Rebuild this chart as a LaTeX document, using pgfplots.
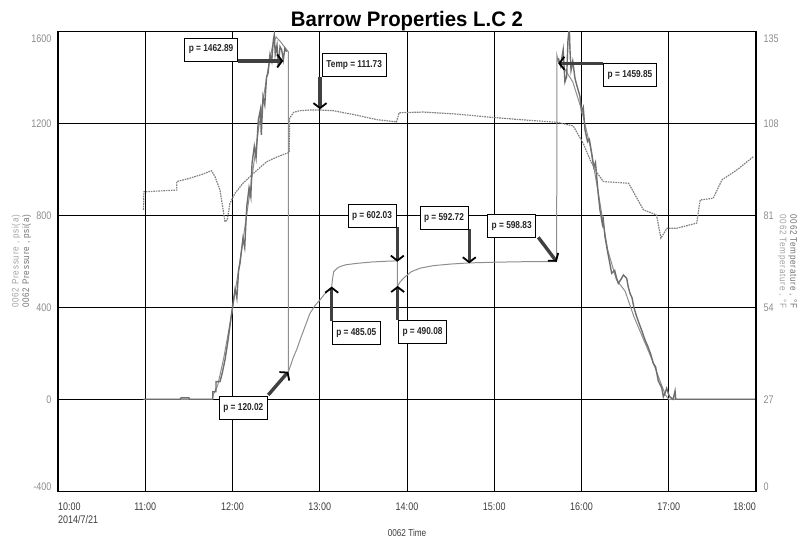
\documentclass[border=0pt]{standalone}
\usepackage{pgfplots}
\pgfplotsset{compat=1.18}
\usetikzlibrary{arrows.meta}
\usepackage{fontspec}
\setmainfont{Liberation Sans}
\newfontfamily\tickfont[FakeStretch=0.82]{Liberation Sans}
\newfontfamily\boxfont[FakeStretch=0.83]{Liberation Sans}
\newfontfamily\titlefont[FakeStretch=0.97]{Liberation Sans}
\newfontfamily\labfont[FakeStretch=0.85,LetterSpace=8]{Liberation Sans}
\definecolor{ylab}{HTML}{8C8C8C}
\definecolor{xlab}{HTML}{3C3C3C}
\definecolor{pA}{HTML}{6E6E6E}
\definecolor{pB}{HTML}{8E8E8E}
\definecolor{tmp}{HTML}{808080}
\definecolor{lablight}{HTML}{A0A0A0}
\definecolor{labdark}{HTML}{707070}
\tikzset{
  arr/.style={line width=3.4bp, draw=black!75, -{Straight Barb[length=5bp,width=13bp,line width=1.8bp,black]}},
  box/.style={draw=black, line width=0.6bp, fill=white, font=\fontsize{10bp}{12bp}\boxfont\bfseries, inner xsep=4bp, inner ysep=0bp, minimum height=23bp, text=black!85}
}
\begin{document}
\begin{tikzpicture}
\path[use as bounding box] (0bp,0bp) rectangle (809bp,541bp);
\begin{axis}[
  at={(58bp,49.7bp)}, anchor=south west,
  width=698bp, height=460bp, scale only axis,
  xmin=10, xmax=18, ymin=-400, ymax=1600,
  xtick={10,11,...,18},
  xticklabels={\rlap{\begin{tabular}[t]{@{}l@{}}10:00\\2014/7/21\end{tabular}},11:00,12:00,13:00,14:00,15:00,16:00,17:00,\llap{18:00}},
  ytick={-400,0,400,800,1200,1600},
  yticklabels={\raisebox{4.5bp}[\height][\depth]{-400},0,400,800,1200,\raisebox{-7bp}[\height][\depth]{1600}},
  xtick pos=bottom, ytick pos=left,
  major tick length=0pt,
  grid=major,
  major grid style={black, line width=1bp},
  axis line style={black, line width=1.5bp},
  xticklabel style={font=\fontsize{11bp}{13.3bp}\tickfont, text=xlab, anchor=base, inner sep=0pt, yshift=-18.7bp},
  yticklabel style={font=\fontsize{11bp}{13bp}\tickfont, text=ylab, anchor=east, inner sep=0pt, xshift=-6.3bp},
  xlabel={0062 Time},
  xlabel style={at={(axis description cs:0.5,0)}, anchor=base, yshift=-45.4bp, font=\fontsize{10bp}{12bp}\tickfont, text=xlab},
  ylabel={\begin{tabular}{@{}c@{}}\textcolor{lablight}{0062 Pressure , psi(a)}\\[-1.5bp]\textcolor{labdark}{0062 Pressure , psi(a)}\end{tabular}},
  ylabel style={at={(axis description cs:-0.0522,0.5)}, anchor=center, font=\fontsize{9.5bp}{12bp}\labfont},
  title={Barrow Properties L.C 2},
  title style={at={(axis description cs:0.5,1)}, anchor=base, yshift=-1.5bp, font=\fontsize{21bp}{24bp}\titlefont\bfseries},
  clip=true,
]
% Pressure series B (thin, lighter)
\addplot[pB, line width=1bp] table {
10.98 0
11.77 0
11.78 20
11.83 60
11.90 180
12.00 390
12.10 640
12.20 900
12.30 1180
12.40 1420
12.46 1540
12.50 1575
12.55 1555
12.60 1530
12.64 1511
12.641 120
12.70 185
12.74 220
12.774 258
12.83 315
12.888 374
12.95 410
13.003 432
13.05 455
13.10 475
13.137 487
13.145 520
13.16 555
13.20 570
13.232 577
13.30 585
13.424 591
13.60 597
13.75 600
13.889 602
13.890 490
13.92 510
13.97 530
14.05 555
14.15 570
14.30 581
14.50 588
14.714 593
15.00 596
15.30 598
15.716 599
15.717 1497
15.74 1460
15.80 1440
15.90 1380
16.00 1260
16.10 1100
16.20 880
16.30 650
16.40 520
16.50 470
16.60 360
16.70 270
16.80 180
16.90 80
16.96 20
17.00 0
18.00 0
};
% Pressure series A (jagged, darker) - rise
\addplot[pA, line width=1.4bp] table {
10.98 0
11.40 0
11.41 6
11.50 6
11.51 0
11.773 0
11.774 33
11.81 33
11.811 77
11.857 77
11.88 110
11.914 171
11.95 260
12.00 403
12.03 480
12.05 440
12.07 560
12.086 591
12.12 700
12.14 660
12.163 837
12.19 920
12.21 880
12.224 1026
12.25 1100
12.27 1050
12.296 1214
12.32 1260
12.33 1150
12.35 1316
12.37 1280
12.39 1400
12.407 1417
12.43 1500
12.45 1470
12.468 1562
12.479 1585
12.49 1500
12.51 1540
12.525 1446
12.545 1533
12.564 1519
12.582 1475
12.60 1526
12.62 1511
};
% Pressure series A - decline
\addplot[pA, line width=1.4bp] table {
15.734 1483
15.76 1450
15.79 1520
15.81 1380
15.83 1403
15.845 1560
15.86 1620
15.868 1519
15.88 1430
15.90 1470
15.925 1396
15.95 1360
15.983 1316
16.00 1250
16.02 1270
16.040 1171
16.07 1120
16.09 1130
16.117 1070
16.14 1010
16.16 1030
16.174 968
16.19 900
16.212 823
16.24 760
16.25 780
16.269 707
16.30 640
16.32 600
16.346 548
16.38 560
16.40 530
16.422 504
16.45 520
16.48 540
16.518 526
16.535 490
16.556 461
16.58 440
16.60 400
16.633 359
16.66 330
16.69 300
16.728 258
16.76 230
16.79 200
16.823 157
16.85 140
16.88 80
16.92 50
16.938 11
16.96 30
16.976 48
17.00 20
17.014 10
17.05 0
17.072 36
17.08 0
18.00 0
};
% annotations
\draw[arr] (axis cs:12.066,1471) -- (axis cs:12.582,1471);
\draw[arr] (axis cs:13.003,1403) -- (axis cs:13.003,1261);
\draw[arr] (axis cs:16.25,1461) -- (axis cs:15.734,1461);
\draw[arr] (axis cs:12.41,19) -- (axis cs:12.64,120);
\draw[arr] (axis cs:13.137,342) -- (axis cs:13.137,490);
\draw[arr] (axis cs:13.893,345) -- (axis cs:13.893,493);
\draw[arr] (axis cs:13.889,748) -- (axis cs:13.889,598);
\draw[arr] (axis cs:14.714,739) -- (axis cs:14.714,591);
\draw[arr] (axis cs:15.505,704) -- (axis cs:15.716,598);
\node[box] at (axis cs:11.754,1521) {p = 1462.89};
\node[box] at (axis cs:13.395,1455) {Temp = 111.73};
\node[box] at (axis cs:16.556,1411) {p = 1459.85};
\node[box] at (axis cs:12.124,-36.5) {p = 120.02};
\node[box] at (axis cs:13.419,289) {p = 485.05};
\node[box] at (axis cs:14.178,292.6) {p = 490.08};
\node[box] at (axis cs:13.599,798) {p = 602.03};
\node[box] at (axis cs:14.424,790) {p = 592.72};
\node[box] at (axis cs:15.2,755) {p = 598.83};
\end{axis}
\begin{axis}[
  at={(58bp,49.7bp)}, anchor=south west,
  width=698bp, height=460bp, scale only axis,
  xmin=10, xmax=18, ymin=0, ymax=135,
  axis x line=none, axis y line*=right,
  ytick={0,27,54,81,108,135},
  yticklabels={\raisebox{4.5bp}[\height][\depth]{0},27,54,81,108,\raisebox{-7.5bp}[\height][\depth]{135}},
  major tick length=0pt,
  axis line style={black, line width=1.5bp},
  yticklabel style={font=\fontsize{11bp}{13bp}\tickfont, text=ylab, anchor=west, inner sep=0pt, xshift=7.3bp},
  ylabel={\begin{tabular}{@{}c@{}}\textcolor{labdark}{0062 Temperature , °F}\\[-1.5bp]\textcolor{lablight}{0062 Temperature , °F}\end{tabular}},
  ylabel style={at={(axis description cs:1.0451,0.5)}, anchor=center, rotate=180, font=\fontsize{9.5bp}{12bp}\labfont},
]
\addplot[tmp, line width=1.2bp, dash pattern=on 1.6bp off 0.9bp] table {
10.980 82.6
10.985 87.9
11.36 88.4
11.361 90.9
11.50 91.8
11.65 93.0
11.76 94.1
11.80 92.3
11.857 88.4
11.89 83.0
11.914 79.1
11.94 79.6
11.97 84.5
12.03 87.5
12.12 90.4
12.24 93.3
12.39 96.7
12.50 98.0
12.62 99.2
12.65 99.4
12.655 109.5
12.70 111.2
12.77 111.7
12.90 111.9
13.00 111.9
13.155 111.7
13.42 110.4
13.65 109.1
13.88 108.4
13.91 111.1
14.19 111.3
14.57 110.7
14.95 109.8
15.33 109.0
15.72 108.3
15.906 107.2
16.02 102.1
16.10 97.2
16.17 93.8
16.25 90.9
16.54 90.4
16.71 82.6
16.86 81.1
16.91 74.3
16.98 77.2
17.09 77.2
17.32 78.7
17.36 85.5
17.51 86.0
17.61 91.4
17.78 94.3
17.97 98.2
};
\end{axis}
\end{tikzpicture}
\end{document}
